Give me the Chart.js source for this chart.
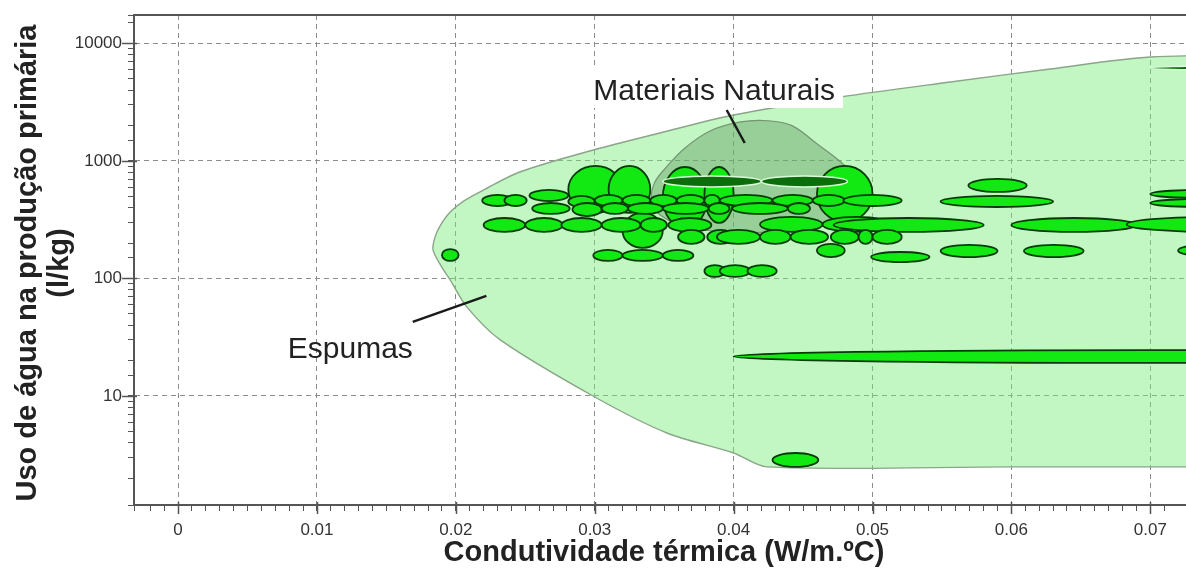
<!DOCTYPE html>
<html>
<head>
<meta charset="utf-8">
<title>Condutividade térmica x Uso de água</title>
<script src="https://cdn.jsdelivr.net/npm/chart.js@4.4.1/dist/chart.umd.min.js"></script>
<style>
html,body{margin:0;padding:0;background:#fff;overflow:hidden;}
canvas{display:block;}
</style>
</head>
<body>
<canvas id="grafico" width="1186" height="570"></canvas>
<script>

// cada material: [condutividade min, condutividade max, agua min, agua max]
// condutividade em W/m.ºC, agua em l/kg
const bolhasGrandes=[
[0.0281,0.0320,361,907],
[0.0310,0.0340,361,907],
[0.0320,0.0349,182,361],
[0.0349,0.0381,269,889],
[0.0379,0.0400,297,889],
[0.0460,0.0500,303,907]
];

const espumas=[
// faixa ~500
[0.0253,0.0281,456,567],
[0.0569,0.0611,545,703],
[0.0700,0.0779,484,567],
// faixa ~460
[0.0219,0.0241,414,514],
[0.0235,0.0251,414,514],
[0.0281,0.0300,406,504],
[0.0300,0.0320,414,514],
[0.0320,0.0340,414,514],
[0.0340,0.0359,414,514],
[0.0359,0.0379,414,514],
[0.0379,0.0390,414,514],
[0.0390,0.0428,414,514],
[0.0428,0.0457,414,514],
[0.0457,0.0480,414,514],
[0.0479,0.0521,414,514],
[0.0549,0.0630,406,504],
[0.0700,0.0779,406,475],
// faixa ~390
[0.0255,0.0282,354,439],
[0.0284,0.0305,340,439],
[0.0305,0.0324,354,439],
[0.0324,0.0349,354,439],
[0.0349,0.0382,354,439],
[0.0382,0.0397,354,439],
[0.0399,0.0439,354,439],
[0.0439,0.0455,354,439],
// faixa ~285
[0.0220,0.0250,249,327],
[0.0250,0.0277,249,327],
[0.0276,0.0305,249,327],
[0.0305,0.0333,249,327],
[0.0333,0.0352,249,327],
[0.0353,0.0384,249,327],
[0.0419,0.0464,249,334],
[0.0464,0.0513,249,334],
[0.0472,0.0580,249,327],
[0.0600,0.0690,249,327],
[0.0683,0.0808,249,334],
// faixa ~225
[0.0360,0.0379,197,259],
[0.0381,0.0400,197,259],
[0.0388,0.0419,197,259],
[0.0419,0.0441,197,259],
[0.0441,0.0468,197,259],
[0.0470,0.0490,197,259],
[0.0490,0.0500,197,259],
[0.0500,0.0521,197,259],
// faixa ~155
[0.0190,0.0202,141,178],
[0.0299,0.0320,141,175],
[0.0320,0.0349,141,175],
[0.0349,0.0371,141,175],
[0.0460,0.0480,152,197],
[0.0499,0.0541,138,168],
[0.0549,0.0590,152,193],
[0.0609,0.0652,152,193],
[0.0720,0.0757,155,193],
// faixa ~115
[0.0379,0.0394,103,130],
[0.0390,0.0412,103,130],
[0.0410,0.0431,103,130],
// faixa ~22 e ~3
[0.0400,0.1000,19.1,24.6],
[0.0428,0.0461,2.49,3.27]
];

const naturais=[
[0.0349,0.0420,601,745],
[0.0420,0.0482,601,745],
[0.0700,0.0808,5949,6436]
];

// contornos dos grupos: [condutividade, agua]
const contornoEspumas=[
[0.095,2.49],[0.060,2.49],[0.0424,2.49],[0.0400,3.27],[0.0352,4.84],
[0.0300,9.8],[0.0232,30],[0.0208,57],[0.0196,97],[0.0189,130],
[0.01836,175],[0.0185,225],[0.0189,285],[0.0196,368],[0.0207,466],
[0.0220,567],[0.0246,806],[0.0299,1240],[0.0347,1731],[0.0400,2463],
[0.0477,3505],[0.0556,4702],[0.0628,6067],[0.0700,7674],[0.0800,7900],
[0.095,7900],[0.095,2.49]
];

const contornoNaturais=[
[0.0408,244],[0.0369,269],[0.0347,347],[0.0341,466],[0.0343,650],
[0.0351,872],[0.0365,1290],[0.0383,1800],[0.0405,2150],[0.0425,2200],
[0.0442,2000],[0.0460,1400],[0.0481,889],[0.0493,550],[0.0487,360],
[0.0455,265],[0.0408,244]
];

const ticksX=[0,0.01,0.02,0.03,0.04,0.05,0.06,0.07];
const ticksY=[10,100,1000,10000];

const tituloX="Condutividade térmica (W/m.ºC)";
const tituloY=["Uso de água na produção primária","(l/kg)"];

// rotulos dos grupos e as linhas que apontam para eles
const notaNaturais={texto:"Materiais Naturais",k:0.0299,agua:3304,linha:[[0.0395,2716],[0.0408,1423]]};
const notaEspumas={texto:"Espumas",k:0.0079,agua:21.1,linha:[[0.0169,42.7],[0.0222,71.0]]};

const fonte='"Liberation Sans", Arial, sans-serif';

function ehMajorX(v){
return Math.abs(v*100-Math.round(v*100))<1e-6;
}
function ehMajorY(v){
let l=Math.log10(v);
return Math.abs(l-Math.round(l))<1e-9;
}

// sem folga extra nas pontas dos eixos
function semFolga(s){
s.paddingLeft=0;
s.paddingRight=0;
s.paddingTop=0;
s.paddingBottom=0;
}

// elipses dos materiais, por cima dos contornos
const pluginElipses={
id:"elipses",
afterDatasetsDraw(chart){
let {ctx,chartArea:a,scales:{x,y}}=chart;
ctx.save();
ctx.beginPath();
ctx.rect(a.left,a.top,a.right-a.left,a.bottom-a.top);
ctx.clip();

let elipse=(m,cor,borda,lw)=>{
let x0=x.getPixelForValue(m[0]);
let x1=x.getPixelForValue(m[1]);
let y0=y.getPixelForValue(m[3]);
let y1=y.getPixelForValue(m[2]);
ctx.beginPath();
ctx.ellipse((x0+x1)/2,(y0+y1)/2,(x1-x0)/2,(y1-y0)/2,0,0,Math.PI*2);
ctx.fillStyle=cor;
ctx.fill();
ctx.lineWidth=lw;
ctx.strokeStyle=borda;
ctx.stroke();
};

bolhasGrandes.forEach(m=>elipse(m,"#12e812","#083a08",1.8));
espumas.forEach(m=>elipse(m,"#12e812","#083a08",1.8));
naturais.forEach(m=>elipse(m,"#0b6e0b","rgba(225,255,225,0.95)",1.5));

ctx.restore();
},

afterDraw(chart){
let {ctx,chartArea:a,scales:{x,y}}=chart;
ctx.save();

// moldura superior
ctx.strokeStyle="#555";
ctx.lineWidth=2;
ctx.beginPath();
ctx.moveTo(a.left,a.top);
ctx.lineTo(a.right,a.top);
ctx.stroke();

// tracos maiores nas divisoes principais
ctx.lineWidth=1.5;
ticksY.forEach(v=>{
let py=Math.round(y.getPixelForValue(v))+0.5;
ctx.beginPath();
ctx.moveTo(a.left-12,py);
ctx.lineTo(a.left+3,py);
ctx.stroke();
});
ticksX.forEach(v=>{
let px=Math.round(x.getPixelForValue(v))+0.5;
ctx.beginPath();
ctx.moveTo(px,a.bottom-3);
ctx.lineTo(px,a.bottom+9);
ctx.stroke();
});

// rotulos
ctx.font="30px "+fonte;
ctx.textBaseline="alphabetic";
ctx.textAlign="left";

let tx=x.getPixelForValue(notaNaturais.k);
let ty=y.getPixelForValue(notaNaturais.agua);
let w=ctx.measureText(notaNaturais.texto).width;
ctx.fillStyle="#fff";
ctx.fillRect(tx-8,ty-32,w+16,40);
ctx.fillStyle="#222";
ctx.fillText(notaNaturais.texto,tx,ty);

tx=x.getPixelForValue(notaEspumas.k);
ty=y.getPixelForValue(notaEspumas.agua);
ctx.fillText(notaEspumas.texto,tx,ty);

ctx.strokeStyle="#1a1a1a";
ctx.lineWidth=2.5;
[notaNaturais,notaEspumas].forEach(n=>{
ctx.beginPath();
ctx.moveTo(x.getPixelForValue(n.linha[0][0]),y.getPixelForValue(n.linha[0][1]));
ctx.lineTo(x.getPixelForValue(n.linha[1][0]),y.getPixelForValue(n.linha[1][1]));
ctx.stroke();
});

// titulos dos eixos
ctx.fillStyle="#222";
ctx.font="bold 29px "+fonte;
ctx.textAlign="center";
ctx.textBaseline="alphabetic";
ctx.fillText(tituloX,664,561);

ctx.translate(0,263);
ctx.rotate(-Math.PI/2);
ctx.textBaseline="middle";
ctx.fillText(tituloY[0],0,28);
ctx.fillText(tituloY[1],0,60);

ctx.restore();
}
};

const transparente="rgba(0,0,0,0)";

new Chart(document.getElementById("grafico"),{
type:"scatter",
data:{
datasets:[
{
data:contornoNaturais.map(p=>({x:p[0],y:p[1]})),
showLine:true,
fill:"shape",
backgroundColor:"rgba(84,144,84,0.38)",
borderColor:"rgba(110,140,110,0.9)",
borderWidth:1.2,
pointRadius:0,
tension:0.35,
order:1
},
{
data:contornoEspumas.map(p=>({x:p[0],y:p[1]})),
showLine:true,
fill:"shape",
backgroundColor:"rgba(120,235,120,0.45)",
borderColor:"#8aa58a",
borderWidth:1.4,
pointRadius:0,
tension:0.3,
order:2
}
]
},
options:{
responsive:false,
animation:false,
events:[],
layout:{padding:{top:15,left:0,right:0,bottom:0}},
plugins:{legend:{display:false},tooltip:{enabled:false}},
scales:{
x:{
type:"linear",
min:-0.00317,
max:0.07257,
afterFit(s){s.height=65;semFolga(s);},
grid:{
color:c=>ehMajorX(c.tick.value)?"#8c8c8c":transparente,
lineWidth:1,
tickColor:"#555",
tickLength:6
},
border:{color:"#555",width:2,dash:[5,4]},
ticks:{
stepSize:0.001,
autoSkip:false,
maxTicksLimit:200,
maxRotation:0,
padding:9,
color:"#333",
font:{family:fonte,size:17},
callback:v=>ehMajorX(v)?String(Math.round(v*100)/100):""
}
},
y:{
type:"logarithmic",
min:1.18,
max:17480,
afterFit(s){s.width=134;semFolga(s);},
grid:{
color:c=>ehMajorY(c.tick.value)?"#8c8c8c":transparente,
lineWidth:1,
tickColor:"#555",
tickLength:6
},
border:{color:"#555",width:2,dash:[5,4]},
ticks:{
autoSkip:false,
padding:6,
color:"#333",
font:{family:fonte,size:17},
callback:v=>ehMajorY(v)?String(Math.round(v)):""
}
}
}
},
plugins:[pluginElipses]
});

</script>
</body>
</html>
